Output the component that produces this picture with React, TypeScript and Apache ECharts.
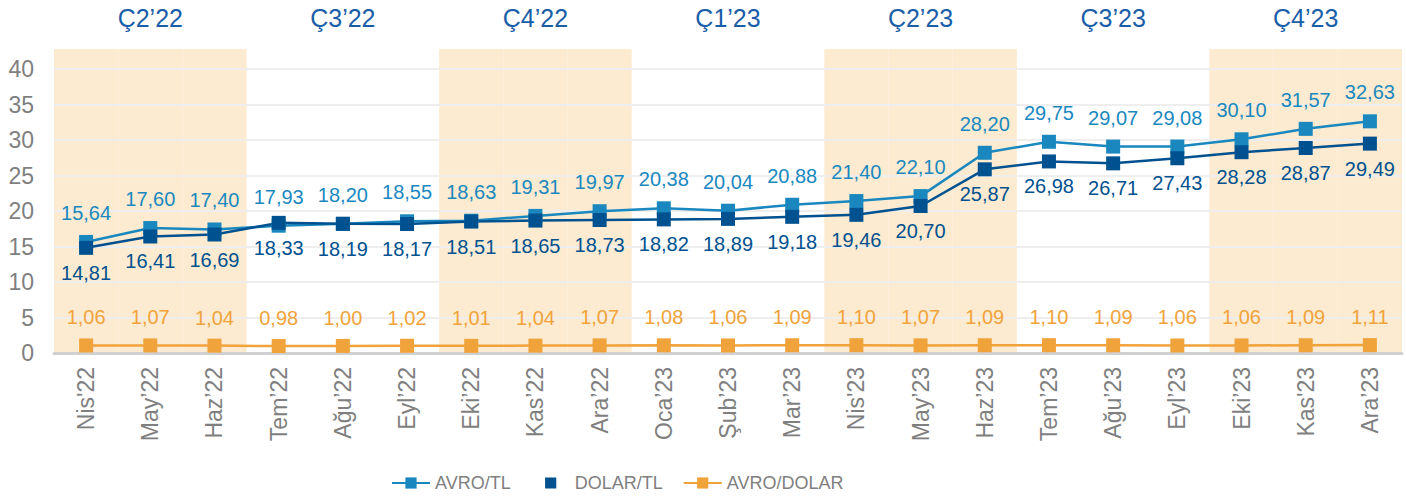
import React, { useEffect, useRef } from "react";
import * as echarts from "echarts";

const months = [
  "Nis'22", "May’22", "Haz’22", "Tem’22", "Ağu’22", "Eyl’22", "Eki’22", "Kas’22", "Ara’22",
  "Oca’23", "Şub’23", "Mar’23", "Nis'23", "May’23", "Haz’23", "Tem’23", "Ağu’23", "Eyl’23",
  "Eki’23", "Kas'23", "Ara’23",
];
const quarters = ["Ç2’22", "Ç3’22", "Ç4’22", "Ç1’23", "Ç2’23", "Ç3’23", "Ç4’23"];
const avroTl = [15.64, 17.6, 17.4, 17.93, 18.2, 18.55, 18.63, 19.31, 19.97, 20.38, 20.04, 20.88, 21.4, 22.1, 28.2, 29.75, 29.07, 29.08, 30.1, 31.57, 32.63];
const dolarTl = [14.81, 16.41, 16.69, 18.33, 18.19, 18.17, 18.51, 18.65, 18.73, 18.82, 18.89, 19.18, 19.46, 20.7, 25.87, 26.98, 26.71, 27.43, 28.28, 28.87, 29.49];
const avroDolar = [1.06, 1.07, 1.04, 0.98, 1.0, 1.02, 1.01, 1.04, 1.07, 1.08, 1.06, 1.09, 1.1, 1.07, 1.09, 1.1, 1.09, 1.06, 1.06, 1.09, 1.11];
// shaded quarters (Ç2 and Ç4): 1 = shaded
const shadedMonths = [1, 1, 1, 0, 0, 0, 1, 1, 1, 0, 0, 0, 1, 1, 1, 0, 0, 0, 1, 1, 1];
const SHADE_TOP = 42.8;

const FONT = "'Liberation Sans', Arial, sans-serif";
const C_AVRO = "#1a88bf";
const C_DOLAR = "#00518f";
const C_AD = "#f1a33b";
const fmt = (v: number) => v.toFixed(2).replace(".", ",");

export default function App() {
  const ref = useRef<HTMLDivElement>(null);
  useEffect(() => {
    document.body.style.margin = "0";
    if (!ref.current) return;
    const chart = echarts.init(ref.current, null, { renderer: "svg" });
    const lineSeries = (name: string, data: number[], color: string, pos: string, dist: number) => ({
      name,
      type: "line",
      data,
      xAxisIndex: 0,
      yAxisIndex: 0,
      z: 3,
      symbol: "rect",
      symbolSize: 14,
      lineStyle: { color, width: 2.5 },
      itemStyle: { color },
      label: {
        show: true,
        position: pos,
        distance: dist,
        color,
        fontSize: 20,
        fontFamily: FONT,
        formatter: (p: any) => fmt(p.value),
      },
    });
    chart.setOption({
      animation: false,
      textStyle: { fontFamily: FONT },
      grid: { left: 54, right: 4, top: 69, bottom: 147 },
      legend: {
        left: 386,
        top: 469,
        itemWidth: 38,
        itemHeight: 14,
        itemGap: 20,
        textStyle: { color: "#7f7f7f", fontSize: 18, fontFamily: FONT },
        data: [
          { name: "AVRO/TL" },
          { name: "DOLAR/TL", lineStyle: { opacity: 0 } },
          { name: "AVRO/DOLAR" },
        ],
      },
      xAxis: [
        {
          type: "category",
          data: months,
          boundaryGap: true,
          z: 1,
          axisLine: { lineStyle: { color: "#d0d0d0", width: 3 } },
          axisTick: { show: false },
          axisLabel: { rotate: 90, color: "#7f7f7f", fontSize: 23, margin: 14, interval: 0, fontFamily: FONT },
        },
        {
          type: "category",
          data: quarters,
          position: "top",
          boundaryGap: true,
          axisLine: { show: false },
          axisTick: { show: false },
          axisLabel: { color: "#1a5ea8", fontSize: 25, margin: 39, interval: 0, fontFamily: FONT },
        },
      ],
      yAxis: [
        {
          type: "value",
          min: 0,
          max: 40,
          interval: 5,
          z: 1,
          axisLine: { show: false },
          axisTick: { show: false },
          axisLabel: { color: "#7f7f7f", fontSize: 23, margin: 20, fontFamily: FONT },
          splitLine: { lineStyle: { color: "#eeeeee", width: 2 } },
        },
        { type: "value", min: 0, max: 40, show: false },
      ],
      series: [
        {
          name: "shade",
          type: "bar",
          xAxisIndex: 0,
          yAxisIndex: 1,
          z: 0,
          silent: true,
          clip: false,
          barWidth: "100%",
          itemStyle: { color: "#fcebd0" },
          data: shadedMonths.map((s) => (s ? SHADE_TOP : null)),
        },
        lineSeries("AVRO/TL", avroTl, C_AVRO, "top", 12),
        lineSeries("DOLAR/TL", dolarTl, C_DOLAR, "bottom", 8),
        lineSeries("AVRO/DOLAR", avroDolar, C_AD, "top", 11),
      ],
    });
    return () => chart.dispose();
  }, []);
  return <div ref={ref} style={{ width: 1406, height: 500 }} />;
}
